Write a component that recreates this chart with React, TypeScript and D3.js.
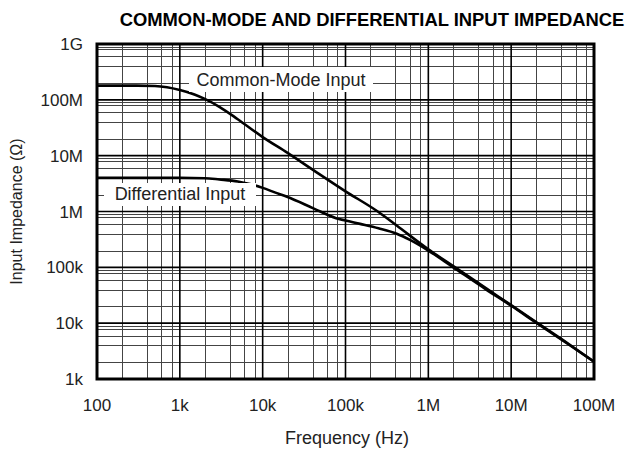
import React from 'react';
import * as d3 from 'd3';

const xTickValues = [1e2, 1e3, 1e4, 1e5, 1e6, 1e7, 1e8];
const xTickLabels = ['100', '1k', '10k', '100k', '1M', '10M', '100M'];
const yTickValues = [1e3, 1e4, 1e5, 1e6, 1e7, 1e8, 1e9];
const yTickLabels = ['1k', '10k', '100k', '1M', '10M', '100M', '1G'];

// minor grid multipliers inside each decade (as drawn in the original)
const xMinor = [2, 4, 6, 8];
const yMinor = [2, 4, 6, 8, 9];

const cmFreq = [100, 300, 500, 700, 1000, 1500, 2000, 3000, 5000, 10000, 20000, 41000, 100000, 250000, 415000, 1e6, 2e6, 5e6, 1e7, 2e7, 5e7, 1e8];
const cmZ = [180e6, 180e6, 177e6, 168e6, 150e6, 125e6, 104e6, 75e6, 45e6, 21.5e6, 11.2e6, 5.5e6, 2.3e6, 0.98e6, 0.56e6, 0.21e6, 0.105e6, 42e3, 21e3, 10.5e3, 4.2e3, 2.05e3];

const dmFreq = [100, 1000, 2000, 3000, 5000, 7000, 10000, 14000, 20000, 41000, 77000, 100000, 150000, 250000, 415000, 600000, 1e6, 2e6, 5e6, 1e7, 2e7, 5e7, 1e8];
const dmZ = [4.0e6, 4.0e6, 3.95e6, 3.75e6, 3.45e6, 3.1e6, 2.65e6, 2.2e6, 1.82e6, 1.14e6, 0.76e6, 0.69e6, 0.6e6, 0.5e6, 0.4e6, 0.31e6, 0.2e6, 0.1e6, 40e3, 20.5e3, 10.2e3, 4.1e3, 2.04e3];

const W = 636;
const H = 451;
const left = 97, right = 594, top = 44, bottom = 379;
const font = '"Liberation Sans", Arial, Helvetica, sans-serif';

const App: React.FC = () => {
  const x = d3.scaleLog().domain([1e2, 1e8]).range([left, right]);
  const y = d3.scaleLog().domain([1e3, 1e9]).range([bottom, top]);

  const xMinorVals: number[] = [];
  xTickValues.slice(0, -1).forEach(d => xMinor.forEach(m => xMinorVals.push(d * m)));
  const yMinorVals: number[] = [];
  yTickValues.slice(0, -1).forEach(d => yMinor.forEach(m => yMinorVals.push(d * m)));

  const line = d3.line<[number, number]>()
    .x(d => x(d[0]))
    .y(d => y(d[1]))
    .curve(d3.curveMonotoneX);

  const cmPath = line(cmFreq.map((f, i) => [f, cmZ[i]] as [number, number])) || '';
  const dmPath = line(dmFreq.map((f, i) => [f, dmZ[i]] as [number, number])) || '';

  return (
    <svg width={W} height={H} style={{ position: 'absolute', left: 0, top: 0, background: '#fff' }} fontFamily={font}>
      <rect x={0} y={0} width={W} height={H} fill="#fff" />
      <text x={372} y={26} textAnchor="middle" fontWeight="bold" fontSize={18.4}>
        COMMON-MODE AND DIFFERENTIAL INPUT IMPEDANCE
      </text>

      {/* minor grid */}
      <g stroke="#444" strokeWidth={1}>
        {xMinorVals.map(v => (
          <line key={'xm' + v} x1={Math.round(x(v)) + 0.5} x2={Math.round(x(v)) + 0.5} y1={top} y2={bottom} />
        ))}
        {yMinorVals.map(v => (
          <line key={'ym' + v} x1={left} x2={right} y1={Math.round(y(v)) + 0.5} y2={Math.round(y(v)) + 0.5} />
        ))}
      </g>
      {/* major grid */}
      <g stroke="#000" strokeWidth={1.6}>
        {xTickValues.map(v => (
          <line key={'xM' + v} x1={x(v)} x2={x(v)} y1={top} y2={bottom} />
        ))}
        {yTickValues.map(v => (
          <line key={'yM' + v} x1={left} x2={right} y1={y(v)} y2={y(v)} />
        ))}
      </g>
      <rect x={left} y={top} width={right - left} height={bottom - top} fill="none" stroke="#000" strokeWidth={3} />

      <path d={cmPath} fill="none" stroke="#000" strokeWidth={2.6} strokeLinejoin="round" />
      <path d={dmPath} fill="none" stroke="#000" strokeWidth={2.6} strokeLinejoin="round" />

      {/* curve labels */}
      <rect x={189} y={67} width={184} height={25} fill="#fff" />
      <text x={281} y={86} textAnchor="middle" fontSize={18} fill="#222">Common-Mode Input</text>
      <rect x={104} y={183} width={152} height={23} fill="#fff" />
      <text x={180} y={200} textAnchor="middle" fontSize={18} fill="#222">Differential Input</text>

      {/* tick labels */}
      <g fontSize={17} fill="#222">
        {xTickValues.map((v, i) => (
          <text key={'xt' + v} x={x(v)} y={411} textAnchor="middle">{xTickLabels[i]}</text>
        ))}
        {yTickValues.map((v, i) => (
          <text key={'yt' + v} x={83} y={y(v)} dy="0.36em" textAnchor="end">{yTickLabels[i]}</text>
        ))}
      </g>
      <text x={347} y={444} textAnchor="middle" fontSize={18} fill="#222">Frequency (Hz)</text>
      <text transform={`translate(22,${(top + bottom) / 2}) rotate(-90)`} textAnchor="middle" fontSize={16} fill="#222">Input Impedance (Ω)</text>
    </svg>
  );
};

export default App;
